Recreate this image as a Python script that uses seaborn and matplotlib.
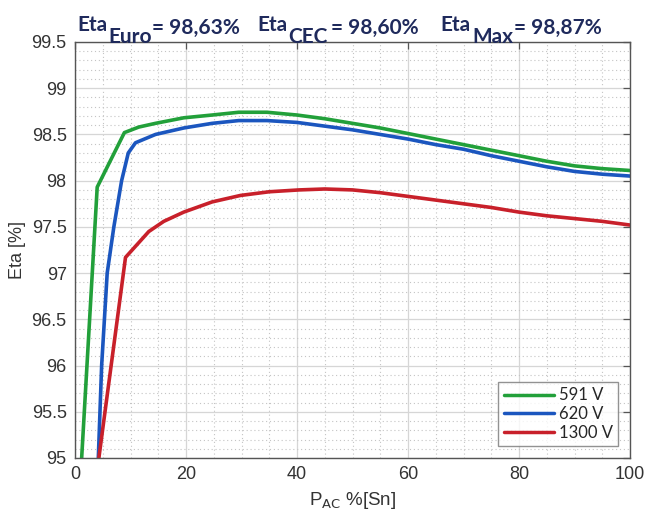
import numpy as np
import pandas as pd
import seaborn as sns
import matplotlib.pyplot as plt
from matplotlib.ticker import MultipleLocator, FuncFormatter

# values (x = P_AC in % of Sn, y = efficiency in %)
x_591 = [1.2, 4.0, 8.9, 11.5, 14.5, 19.6, 24.7, 29.5, 34.6, 40, 45, 50, 55, 60,
         65, 70, 75, 80, 85, 90, 95, 100]
eta_591 = [95.0, 97.93, 98.52, 98.58, 98.62, 98.68, 98.71, 98.74, 98.74, 98.71,
           98.67, 98.62, 98.57, 98.51, 98.45, 98.39, 98.33, 98.27, 98.21, 98.16,
           98.13, 98.11]

x_620 = [4.2, 4.8, 5.8, 7.0, 8.4, 9.6, 10.9, 14.5, 19.6, 24.7, 29.5, 34.6, 40, 45,
         50, 55, 60, 65, 70, 75, 80, 85, 90, 95, 100]
eta_620 = [95.0, 96.0, 97.0, 97.5, 98.0, 98.3, 98.41, 98.50, 98.57, 98.62, 98.65,
           98.65, 98.63, 98.59, 98.55, 98.50, 98.45, 98.39, 98.34, 98.27, 98.21,
           98.15, 98.10, 98.07, 98.05]

x_1300 = [4.3, 9.1, 11.5, 13.3, 16, 19.6, 24.7, 29.8, 35, 40.4, 45, 50, 55, 60,
          65, 70, 75, 80, 85, 90, 95, 100]
eta_1300 = [95.0, 97.17, 97.33, 97.45, 97.56, 97.66, 97.77, 97.84, 97.88, 97.90,
            97.91, 97.90, 97.87, 97.83, 97.79, 97.75, 97.71, 97.66, 97.62, 97.59,
            97.56, 97.52]

series_names = ["591 V", "620 V", "1300 V"]
series_colors = ["#22a03a", "#1b56bf", "#c8202a"]

eta_labels = ["Eta", "Eta", "Eta"]
eta_subs = ["Euro", "CEC", "Max"]
eta_values = ["= 98,63%", "= 98,60%", "= 98,87%"]

df = pd.concat([
    pd.DataFrame({"P": x_591, "Eta": eta_591, "U": series_names[0]}),
    pd.DataFrame({"P": x_620, "Eta": eta_620, "U": series_names[1]}),
    pd.DataFrame({"P": x_1300, "Eta": eta_1300, "U": series_names[2]}),
])

sns.set_style("white")
plt.rcParams["font.family"] = ["Liberation Sans", "DejaVu Sans"]

W, H = 645, 513
fig = plt.figure(figsize=(W / 100, H / 100), dpi=100)
ax = fig.add_axes([75 / W, 1 - 458 / H, 555 / W, 416 / H])

sns.lineplot(data=df, x="P", y="Eta", hue="U", palette=series_colors,
             estimator=None, sort=False, linewidth=2.6, ax=ax)
for line in ax.get_lines():
    line.set_solid_joinstyle("round")

ax.set_xlim(0, 100)
ax.set_ylim(95, 99.5)
ax.xaxis.set_major_locator(MultipleLocator(20))
ax.xaxis.set_minor_locator(MultipleLocator(5))
ax.yaxis.set_major_locator(MultipleLocator(0.5))
ax.yaxis.set_minor_locator(MultipleLocator(0.1))
ax.yaxis.set_major_formatter(FuncFormatter(lambda v, p: "%g" % v))

ax.grid(which="major", color="#d6d6d6", linewidth=0.9, linestyle="-")
ax.grid(which="minor", color="#c4c4c4", linewidth=0.8, linestyle=(0, (1, 2.5)))
ax.set_axisbelow(True)

for s in ax.spines.values():
    s.set_color("#555555")
    s.set_linewidth(1.0)
ax.tick_params(which="major", direction="in", length=5, width=0.9, color="#555555",
               top=True, right=True, labelsize=13, labelcolor="#333333", pad=6)
ax.tick_params(which="minor", length=0)

ax.set_ylabel("Eta [%]", fontsize=13, color="#333333", labelpad=4)
ax.set_xlabel(r"P$_{\mathrm{AC}}$ %[Sn]", fontsize=13.5, color="#333333", labelpad=5)

leg = ax.legend(loc="lower right", handlelength=3.0, frameon=True,
                fancybox=False, borderaxespad=0.7, handletextpad=0.3,
                labelspacing=0.15, borderpad=0.35,
                prop={"family": "Lato", "size": 12})
leg.get_frame().set_edgecolor("#777777")
leg.get_frame().set_linewidth(1.0)
for line in leg.get_lines():
    line.set_linewidth(2.5)

# efficiency summary above the plot
navy = "#1f2a5c"
pos_eta = [77, 257, 440]
pos_sub = [108, 288, 472]
pos_val = [152, 331, 514]
for i in range(3):
    fig.text(pos_eta[i] / W, 1 - 31 / H, eta_labels[i], fontsize=15, color=navy,
             family="Lato", weight="bold", ha="left", va="baseline")
    fig.text(pos_sub[i] / W, 1 - 43 / H, eta_subs[i], fontsize=15, color=navy,
             family="Lato", weight="bold", ha="left", va="baseline")
    fig.text(pos_val[i] / W, 1 - 34 / H, eta_values[i], fontsize=15, color=navy,
             family="Lato", weight="bold", ha="left", va="baseline")

plt.savefig("out.png", dpi=100)
